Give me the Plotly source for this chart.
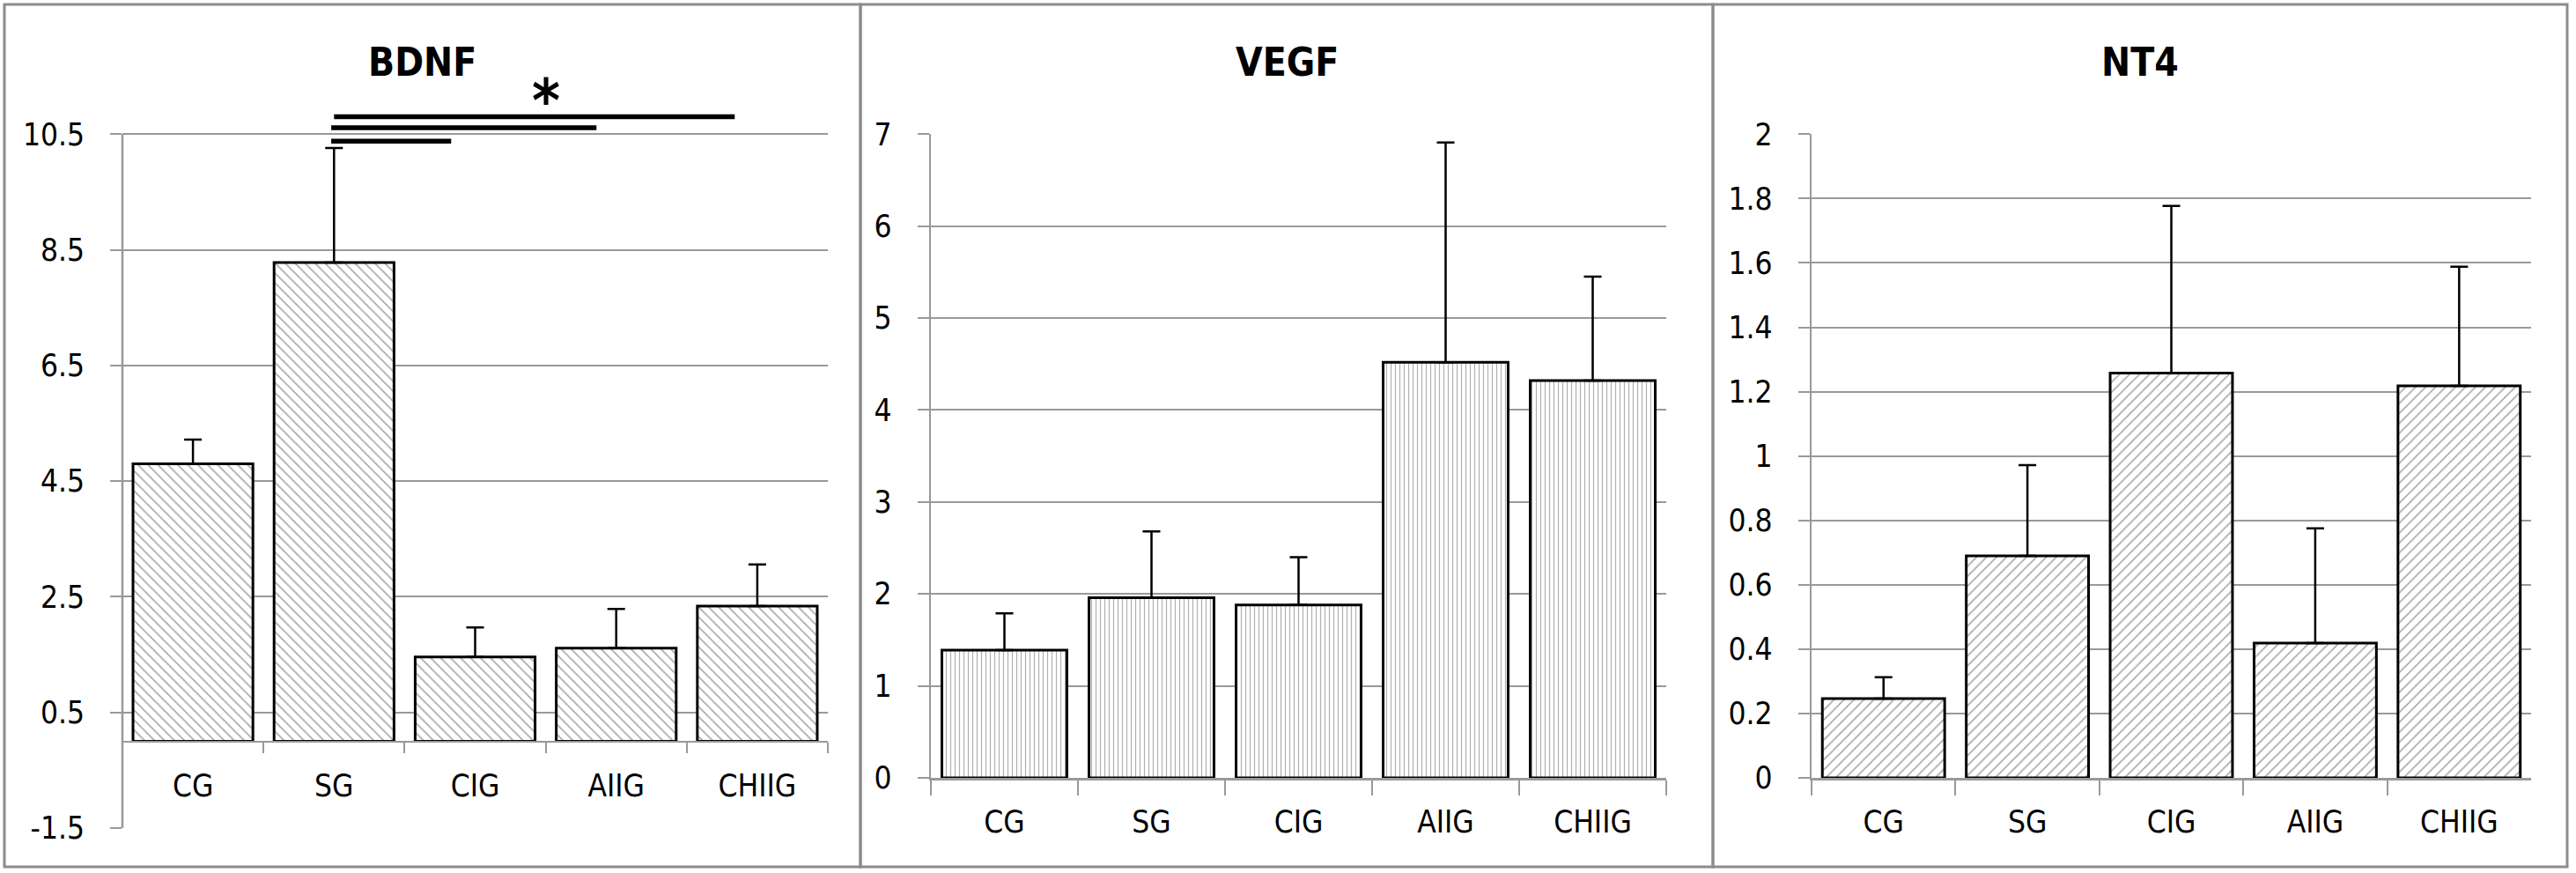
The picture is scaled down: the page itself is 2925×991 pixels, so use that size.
import plotly.graph_objects as go

# ---------------- data ----------------
categories = ["CG", "SG", "CIG", "AIIG", "CHIIG"]

bdnf_mean = [4.80, 8.28, 1.46, 1.61, 2.34]
bdnf_sd = [0.42, 1.98, 0.51, 0.68, 0.72]

vegf_mean = [1.39, 1.96, 1.88, 4.52, 4.32]
vegf_sd = [0.40, 0.72, 0.52, 2.39, 1.13]

nt4_mean = [0.246, 0.690, 1.258, 0.419, 1.218]
nt4_sd = [0.067, 0.282, 0.519, 0.356, 0.370]

bdnf_ticks = [-1.5, 0.5, 2.5, 4.5, 6.5, 8.5, 10.5]
vegf_ticks = [0, 1, 2, 3, 4, 5, 6, 7]
nt4_ticks = [0, 0.2, 0.4, 0.6, 0.8, 1.0, 1.2, 1.4, 1.6, 1.8, 2.0]
nt4_ticktext = ["0", "0.2", "0.4", "0.6", "0.8", "1", "1.2", "1.4", "1.6", "1.8", "2"]

# significance brackets on BDNF (from SG to ...), category-index positions
sig_start = [0.98, 0.98, 1.0]
sig_end = [1.83, 2.86, 3.84]
sig_level = [10.38, 10.61, 10.80]
sig_star_x = 2.5
sig_star_y = 11.08

titles = ["BDNF", "VEGF", "NT4"]

# ---------------- layout helpers ----------------
W, H = 2925, 991


def px_x(p):
    return p / W


def px_y(p):
    return 1 - p / H


FONT = "DejaVu Sans Condensed, DejaVu Sans, sans-serif"
GRID = "#999999"
AXIS = "#999999"
BORDER = "#8c8c8c"

tickfont = dict(family=FONT, size=35, color="black")

# BDNF geometry (pixels)
b_left, b_right = 139, 940
b_top_val, b_bot_val = 10.5, -1.5
b_top_px, b_bot_px = 152.3, 940
b_ppu = (b_bot_px - b_top_px) / (b_top_val - b_bot_val)
b_range = [-1.5, 11.6]
b_dom_top_px = b_bot_px - (b_range[1] - b_range[0]) * b_ppu
b_zero_px = b_bot_px - (0 - b_range[0]) * b_ppu

# VEGF / NT4 geometry
v_left, v_right = 1057, 1892
n_left, n_right = 2057, 2874
top_px, bot_px = 152.3, 883

fig = go.Figure()


def bar_trace(means, sds, shape, size, solidity, fg, xa, ya):
    return go.Bar(
        x=categories,
        y=means,
        xaxis=xa,
        yaxis=ya,
        error_y=dict(type="data", symmetric=False, array=sds,
                     arrayminus=[0] * len(sds), color="black",
                     thickness=2.5, width=10),
        marker=dict(
            color="white",
            line=dict(color="black", width=3),
            pattern=dict(shape=shape, fgcolor=fg, bgcolor="white",
                         size=size, solidity=solidity, fillmode="replace"),
        ),
        showlegend=False,
    )


fig.add_trace(bar_trace(bdnf_mean, bdnf_sd, "\\", 8, 0.2, "#a8a8a8", "x", "y"))
fig.add_trace(bar_trace(vegf_mean, vegf_sd, "|", 5, 0.24, "#b0b0b0", "x2", "y2"))
fig.add_trace(bar_trace(nt4_mean, nt4_sd, "/", 8, 0.2, "#a8a8a8", "x3", "y3"))

common_x = dict(type="category", showline=True, linecolor=AXIS, linewidth=2.5,
                ticks="outside", tickson="boundaries", tickcolor=AXIS,
                tickwidth=2, showgrid=False, tickfont=tickfont, zeroline=False,
                fixedrange=True, automargin=False)
common_y = dict(showgrid=True, gridcolor=GRID, gridwidth=2, ticks="outside",
                ticklen=13, tickcolor=AXIS, tickwidth=2, tickfont=tickfont,
                zeroline=False, ticklabelstandoff=22, fixedrange=True,
                automargin=False)

fig.update_layout(
    template="none",
    width=W, height=H, autosize=False,
    margin=dict(l=0, r=0, t=0, b=0, pad=0, autoexpand=False),
    paper_bgcolor="white", plot_bgcolor="white",
    bargap=0.15,
    showlegend=False,
    xaxis=dict(common_x, domain=[px_x(b_left), px_x(b_right)], anchor="free",
               position=px_y(b_zero_px), ticklen=12, ticklabelstandoff=19),
    yaxis=dict(common_y, domain=[px_y(b_bot_px), px_y(b_dom_top_px)],
               range=b_range, tickvals=bdnf_ticks,
               ticktext=[str(t) for t in bdnf_ticks], showline=False,
               anchor="x"),
    xaxis2=dict(common_x, domain=[px_x(v_left), px_x(v_right)], anchor="y2",
                ticklen=17, ticklabelstandoff=17),
    yaxis2=dict(common_y, domain=[px_y(bot_px), px_y(top_px)], range=[0, 7],
                tickvals=vegf_ticks, showline=True, linecolor=AXIS,
                linewidth=2.5, anchor="x2"),
    xaxis3=dict(common_x, domain=[px_x(n_left), px_x(n_right)], anchor="y3",
                ticklen=17, ticklabelstandoff=17),
    yaxis3=dict(common_y, domain=[px_y(bot_px), px_y(top_px)], range=[0, 2],
                tickvals=nt4_ticks, ticktext=nt4_ticktext, showline=True,
                linecolor=AXIS, linewidth=2.5, anchor="x3"),
)

shapes = []
# BDNF left axis line only over the tick span
shapes.append(dict(type="line", xref="x domain", yref="y", x0=0, x1=0,
                   y0=bdnf_ticks[0], y1=bdnf_ticks[-1],
                   line=dict(color=AXIS, width=2.5)))
# significance lines
for s, e, lv in zip(sig_start, sig_end, sig_level):
    shapes.append(dict(type="line", xref="x", yref="y", x0=s, x1=e, y0=lv,
                       y1=lv, line=dict(color="black", width=5.5)))
# panel borders
for x0, x1 in [(5, 977), (977, 1945), (1945, 2915)]:
    shapes.append(dict(type="rect", xref="paper", yref="paper",
                       x0=px_x(x0), x1=px_x(x1), y0=px_y(984), y1=px_y(5),
                       line=dict(color=BORDER, width=3), layer="above"))
fig.update_layout(shapes=shapes)

annotations = []
for t, cx in zip(titles, [479, 1461, 2430]):
    annotations.append(dict(text="<b>%s</b>" % t, xref="paper", yref="paper",
                            x=px_x(cx), y=px_y(71), xanchor="center",
                            yanchor="middle", showarrow=False,
                            font=dict(family=FONT, size=44, color="black")))
annotations.append(dict(text="<b>*</b>", xref="x", yref="y", x=sig_star_x,
                        y=sig_star_y, xanchor="center", yanchor="middle",
                        showarrow=False,
                        font=dict(family=FONT, size=68, color="black")))
fig.update_layout(annotations=annotations)

page_fix = (
    "var gd=document.getElementById('{plot_id}');"
    "gd.style.position='fixed';gd.style.left='0px';gd.style.top='0px';"
    "var de=document.documentElement, b=document.body;"
    "de.style.margin='0';de.style.padding='0';de.style.overflow='hidden';"
    "b.style.margin='0';b.style.padding='0';b.style.overflow='hidden';"
)

fig.write_html("out.html", post_script=page_fix,
               config={"displayModeBar": False, "staticPlot": True})
